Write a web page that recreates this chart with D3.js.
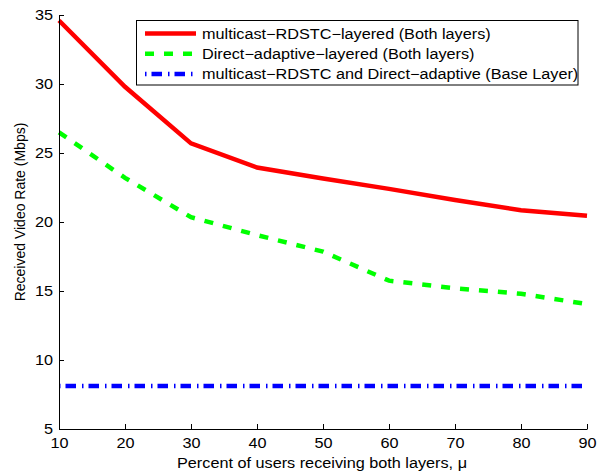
<!DOCTYPE html>
<html>
<head>
<meta charset="utf-8">
<script src="https://cdn.jsdelivr.net/npm/d3@7.9.0/dist/d3.min.js"></script>
<style>
  body { margin: 0; background: #fff; }
  svg { font-family: "Liberation Sans", Arial, sans-serif; }
</style>
</head>
<body>
<svg width="598" height="476"></svg>
<script>
const xVals = [10, 20, 30, 40, 50, 60, 70, 80, 90];
const rdstcLayered = [34.6, 29.8, 25.7, 23.95, 23.15, 22.4, 21.6, 20.85, 20.45];
const directLayered = [26.5, 23.2, 20.35, 19.05, 17.85, 15.75, 15.2, 14.8, 14.05];
const baseLayer = [8.12, 8.12, 8.12, 8.12, 8.12, 8.12, 8.12, 8.12, 8.12];
const seriesNames = [
  'multicast\u2212RDSTC\u2212layered (Both layers)',
  'Direct\u2212adaptive\u2212layered (Both layers)',
  'multicast\u2212RDSTC and Direct\u2212adaptive (Base Layer)'
];
const xTicks = [10, 20, 30, 40, 50, 60, 70, 80, 90];
const yTicks = [5, 10, 15, 20, 25, 30, 35];

const svg = d3.select('svg');
const plotLeft = 59, plotRight = 587, plotTop = 15, plotBottom = 429;
const stretch = 1.16; // the figure text is a bit wider than Liberation Sans

// widen a text horizontally around its own x anchor
function widen(sel) {
  sel.each(function () {
    let t = d3.select(this);
    let ax = +t.attr('x') || 0;
    t.attr('transform', `translate(${ax},0) scale(${stretch},1) translate(${-ax},0)`);
  });
}

let x = d3.scaleLinear().domain([10, 90]).range([plotLeft, plotRight]);
let y = d3.scaleLinear().domain([5, 35]).range([plotBottom, plotTop]);

// lines
let styles = [
  { color: '#ff0000', dash: null, width: 4.5 },
  { color: '#00ff00', dash: '9,10', width: 4.5 },
  { color: '#0000ff', dash: '1.5,5,10.5,6', width: 4.5 }
];
let allSeries = [rdstcLayered, directLayered, baseLayer];

let line = d3.line().x((d, i) => x(xVals[i])).y((d) => y(d));

allSeries.forEach((s, idx) => {
  svg.append('path')
    .attr('d', line(s))
    .attr('fill', 'none')
    .attr('stroke', styles[idx].color)
    .attr('stroke-width', styles[idx].width)
    .attr('stroke-dasharray', styles[idx].dash);
});

// axes (MATLAB style, ticks inward)
let xAxis = d3.axisBottom(x).tickValues(xTicks).tickSizeInner(-5).tickSizeOuter(0).tickPadding(9);
let yAxis = d3.axisLeft(y).tickValues(yTicks).tickSizeInner(-5).tickSizeOuter(0).tickPadding(6);

let gx = svg.append('g').attr('transform', `translate(0,${plotBottom})`).call(xAxis);
let gy = svg.append('g').attr('transform', `translate(${plotLeft},0)`).call(yAxis);
[gx, gy].forEach((g) => {
  g.selectAll('text').attr('font-size', 14).attr('fill', '#000').attr('font-family', '"Liberation Sans", Arial, sans-serif');
  g.selectAll('line, path').attr('stroke', '#000').attr('stroke-width', 1);
  widen(g.selectAll('text'));
});

// axis labels
svg.append('text')
  .attr('x', 322).attr('y', 468)
  .attr('text-anchor', 'middle').attr('font-size', 14)
  .text('Percent of users receiving both layers, \u03bc')
  .call(widen);

svg.append('text')
  .attr('transform', `translate(25,212) rotate(-90)`)
  .attr('text-anchor', 'middle').attr('font-size', 14)
  .text('Received Video Rate (Mbps)');

// legend
let legend = svg.append('g');
legend.append('rect')
  .attr('x', 136.5).attr('y', 20.5).attr('width', 441.5).attr('height', 64.5)
  .attr('fill', '#fff').attr('stroke', '#000').attr('stroke-width', 1);

seriesNames.forEach((name, idx) => {
  let ly = 33.5 + idx * 20.3;
  legend.append('line')
    .attr('x1', 145).attr('x2', 196).attr('y1', ly).attr('y2', ly)
    .attr('stroke', styles[idx].color)
    .attr('stroke-width', styles[idx].width)
    .attr('stroke-dasharray', styles[idx].dash);
  legend.append('text')
    .attr('x', 202).attr('y', ly + 5.3)
    .attr('font-size', 14)
    .text(name)
    .call(widen);
});
</script>
</body>
</html>
